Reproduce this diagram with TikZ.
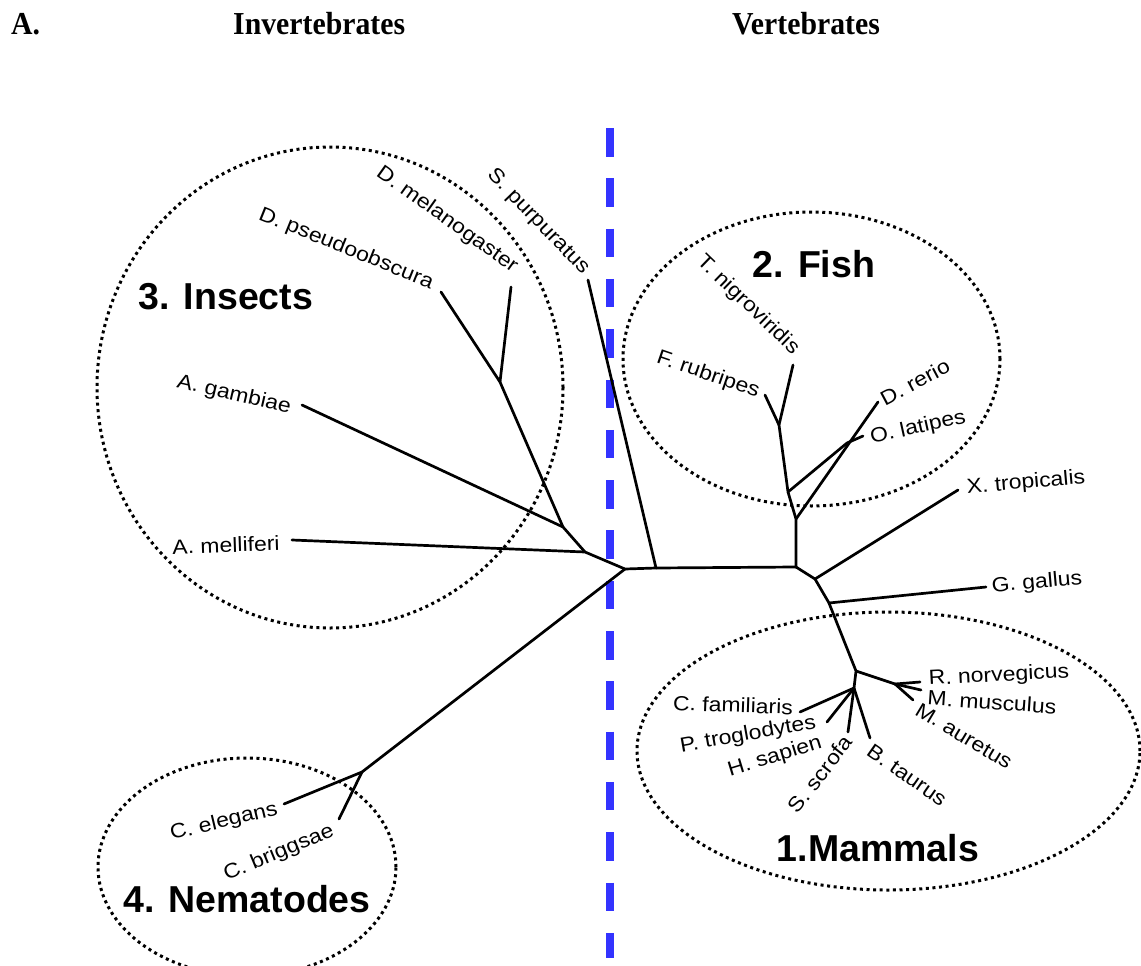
\documentclass[tikz,border=0pt]{standalone}
\usepackage{fontspec}
\usepackage{tikz}
\usetikzlibrary{positioning}
\setmainfont{Liberation Serif}
\newfontfamily\taxfont[FakeStretch=1.12]{Liberation Sans}
\newfontfamily\grpfont{Liberation Sans}
\newfontfamily\headfont[FakeStretch=0.93]{Liberation Serif}
\definecolor{splitblue}{HTML}{3333FF}

\begin{document}
\begin{tikzpicture}[x=1pt,y=-1pt,
  branch/.style={line width=2.7pt, line cap=round, line join=round},
  taxon/.style={font=\taxfont\fontsize{20.5}{24}\selectfont, inner sep=0pt},
  grouplbl/.style={font=\grpfont\bfseries\fontsize{37.5}{40}\selectfont, inner sep=0pt},
  grouprim/.style={line width=3pt, dash pattern=on 3pt off 3.6pt},
  header/.style={font=\headfont\bfseries\fontsize{32}{36}\selectfont, inner sep=0pt, anchor=base west}]
\useasboundingbox (0,0) rectangle (1141,966);

% headings
\node[header] (hA) at (11,35) {A.};
\node[header] (hinv) at (233,35) {Invertebrates};
\node[header] (hvert) at (732,35) {Vertebrates};

% invertebrates | vertebrates
\coordinate (splittop) at (610,128);
\coordinate (splitbot) at (610,958);
\draw[splitblue, line width=7.3pt, dash pattern=on 28.5pt off 21.8pt] (splittop) -- (splitbot);

% groups
\draw[grouprim] (330,387.5) ellipse [x radius=233pt, y radius=240.5pt];
\draw[grouprim] (811.5,359) ellipse [x radius=188.5pt, y radius=147pt];
\draw[grouprim] (888.5,751) ellipse [x radius=251.5pt, y radius=139pt];
\draw[grouprim] (247,867) ellipse [x radius=149pt, y radius=109pt];

\node[grouplbl] (insects) at (226,297) {3. Insects};
\node[grouplbl] (fish) at (814,264) {2. Fish};
\node[grouplbl] (mammals) at (878,848) {1.Mammals};
\node[grouplbl] (nematodes) at (247,899) {4. Nematodes};

% junctions
\coordinate (root) at (625,569);
\coordinate (spj) at (656,568);
\coordinate (vj) at (796,567);
\coordinate (amj) at (585,552);
\coordinate (agj) at (563,527);
\coordinate (drj) at (500,382);
\coordinate (nj) at (362,772);
\coordinate (fj3) at (796,519);
\coordinate (fj2) at (788,492);
\coordinate (fj1) at (779,425);
\coordinate (olk) at (847,443);
\coordinate (xj) at (815,579);
\coordinate (gj) at (829,603);
\coordinate (mj) at (856,671);
\coordinate (mj2) at (854,688);
\coordinate (rj) at (895,684);

% tips
\coordinate (am) at (292,540);
\coordinate (ag) at (302,405);
\coordinate (dp) at (441,292);
\coordinate (dm) at (511,287);
\coordinate (sp) at (588,280);
\coordinate (ce) at (284,804);
\coordinate (cb) at (339,819);
\coordinate (tn) at (793,365);
\coordinate (fr) at (765,395);
\coordinate (ol) at (863,436);
\coordinate (dr) at (878,402);
\coordinate (xt) at (958,490);
\coordinate (gg) at (986,587);
\coordinate (rn) at (920,682);
\coordinate (mmu) at (921,690);
\coordinate (ma) at (913,700);
\coordinate (cf) at (800,712);
\coordinate (pt) at (827,722);
\coordinate (ss) at (848,732);
\coordinate (bt) at (870,738);

% tree
\draw[branch] (am) -- (amj) -- (root) -- (spj) -- (vj);
\draw[branch] (ag) -- (agj) -- (amj);
\draw[branch] (dp) -- (drj) -- (agj);
\draw[branch] (dm) -- (drj);
\draw[branch] (sp) -- (spj);
\draw[branch] (root) -- (nj) -- (ce);
\draw[branch] (nj) -- (cb);
\draw[branch] (vj) -- (fj3) -- (fj2) -- (fj1) -- (tn);
\draw[branch] (fj1) -- (fr);
\draw[branch] (fj2) -- (olk) -- (ol);
\draw[branch] (fj3) -- (dr);
\draw[branch] (vj) -- (xj) -- (gj) -- (mj) -- (mj2);
\draw[branch] (xj) -- (xt);
\draw[branch] (gj) -- (gg);
\draw[branch] (mj) -- (rj) -- (rn);
\draw[branch] (rj) -- (mmu);
\draw[branch] (rj) -- (ma);
\draw[branch] (mj2) -- (cf);
\draw[branch] (mj2) -- (pt);
\draw[branch] (mj2) -- (ss);
\draw[branch] (mj2) -- (bt);

% species
\node[taxon, rotate=2] (aml) at (226,545) {A. melliferi};
\node[taxon, rotate=-13] (agl) at (234,395) {A. gambiae};
\node[taxon, rotate=-22] (dpl) at (346,249) {D. pseudoobscura};
\node[taxon, rotate=-35.5] (dml) at (447,220) {D. melanogaster};
\node[taxon, rotate=-46] (spl) at (538,222) {S. purpuratus};
\node[taxon, rotate=13.5] (cel) at (224,822) {C. elegans};
\node[taxon, rotate=22.5] (cbl) at (279,853) {C. briggsae};
\node[taxon, rotate=-44] (tnl) at (748,305) {T. nigroviridis};
\node[taxon, rotate=-19] (frl) at (708,375) {F. rubripes};
\node[taxon, rotate=28] (drl) at (915,382) {D. rerio};
\node[taxon, rotate=12.5] (oll) at (918,428) {O. latipes};
\node[taxon, rotate=5] (xtl) at (1026,483) {X. tropicalis};
\node[taxon, rotate=5] (ggl) at (1037,583) {G. gallus};
\node[taxon, rotate=3] (rnl) at (999,676) {R. norvegicus};
\node[taxon, rotate=-4] (mmul) at (992,702) {M. musculus};
\node[taxon, rotate=-31] (mal) at (964,736) {M. auretus};
\node[taxon, rotate=-2] (cfl) at (733,705) {C. familiaris};
\node[taxon, rotate=10] (ptl) at (748,735) {P. troglodytes};
\node[taxon, rotate=17] (hsl) at (775,757) {H. sapien};
\node[taxon, rotate=52] (ssl) at (820,774) {S. scrofa};
\node[taxon, rotate=-35] (btl) at (907,775) {B. taurus};
\end{tikzpicture}
\end{document}
